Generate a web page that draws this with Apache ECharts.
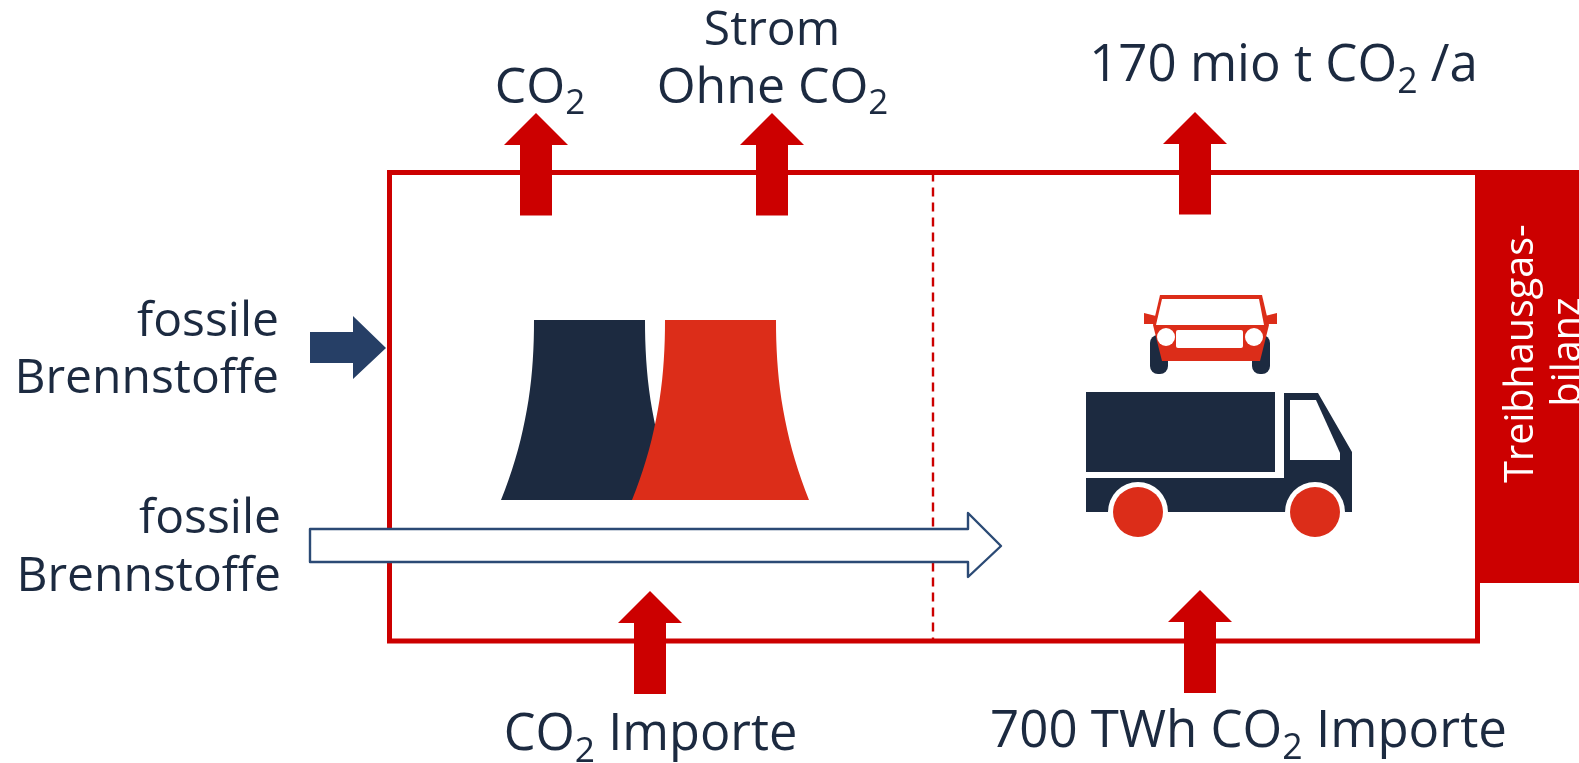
<!DOCTYPE html>
<html>
<head>
<meta charset="utf-8">
<style>html,body{margin:0;padding:0;background:#fff}#chart{width:1579px;height:763px}</style>
<script src="https://cdn.jsdelivr.net/npm/echarts@6/dist/echarts.min.js"></script>
</head>
<body>
<div id="chart"></div>
<script>
// Balance-boundary diagram: power plant and road traffic inside a CO2 frame.
const RED = '#CC0000', FLAME = '#DC2D19', NAVY = '#1C2A40', BLUE = '#263F66', INK = '#1C2A40';

// Frame and divider, in diagram units
const frameLeft = 389.5, frameRight = 1477.5, frameTop = 172.5, frameBottom = 641;
const dividerX = 933;
const balanceBox = [1475, 170, 1579, 583];

// Vertical arrows crossing the frame
const arrowCenters = [536, 772, 1195, 650, 1200];
const arrowTips = [113, 113, 112, 591, 590];
const arrowTails = [215.5, 215.5, 214.5, 694, 693];

// Cooling towers: left and right top corners, and the flare of their sides
const towerTopLefts = [534, 665];
const towerTopRights = [645, 776];
const towerRows = [320, 330, 340, 350, 360, 370, 380, 390, 400, 410, 420, 430, 440, 450, 460, 470, 480, 490, 500];
const towerFlare = [0, 0.05, 0.26, 0.65, 1.2, 1.95, 2.9, 4.1, 5.5, 7.2, 9.1, 11.2, 13.5, 16.1, 19, 22.1, 25.5, 29.1, 33];

// Truck outline
const truckBox = [1086, 392, 1275, 472];
const truckBody = [[1086, 478], [1284, 478], [1284, 393], [1318, 393], [1352, 452], [1352, 512], [1086, 512]];
const truckWindow = [[1290, 400], [1316, 400], [1340, 453], [1340, 460], [1290, 460]];
const truckWheels = [1138, 1315];

// Car seen from the front
const carBody = [[1160, 295], [1262, 295], [1269, 325], [1260, 361], [1162, 361], [1153, 325]];
const carScreen = [[1162, 299], [1259, 299], [1264, 325], [1156, 325]];
const carMirrors = [
  [[1144, 313], [1156, 316], [1154, 324], [1144, 324]],
  [[1277, 313], [1265, 316], [1267, 324], [1277, 324]]
];
const carLamps = [1166, 1254];
const carGrille = [1176, 330, 1243, 348];
const carTyres = [[1150, 335, 1168, 374], [1252, 335, 1270, 374]];

// Horizontal fuel arrows
const fuelSolid = [[310, 332], [353, 332], [353, 316], [386, 348], [353, 379], [353, 363], [310, 363]];
const fuelOutline = [[310, 529], [968, 529], [968, 513], [1001, 546], [968, 577], [968, 562], [310, 562]];

// Text labels
const labelTexts = ['Strom', '{m|Ohne CO}{s|2}', '{m|CO}{s|2}', '{m|170 mio t CO}{s|2}{m| /a}',
  'fossile', 'Brennstoffe', 'fossile', 'Brennstoffe', '{m|CO}{s|2}{m| Importe}', '{m|700 TWh CO}{s|2}{m| Importe}'];
const labelX = [772, 772.5, 540, 1283.5, 279, 279, 281, 281, 650.5, 1248.5];
const labelY = [45, 103, 103, 81, 336, 393, 533, 591, 750, 747];
const labelSize = [48, 50, 50, 51, 48, 48, 48, 48, 50.5, 51];
const labelAlign = ['center', 'center', 'center', 'center', 'right', 'right', 'right', 'right', 'center', 'center'];
const balanceLines = ['Treibhausgas-', 'bilanz'];
const balanceLineX = [1532.5, 1580];
const balanceLineY = [353.5, 352];

const FONT = '"Open Sans"';
const BALANCE_SIZE = 39.5;
const PLAIN_ASCENT = 0.78;   // top of a plain text box to its baseline, per font size
const RICH_LINE = 72;
const RICH_DESCENT = 0.38;

function polygon(pts, fill, extra) { return Object.assign({ kind: 'poly', pts, fill }, extra); }
function rect(r, fill, radius) { return { kind: 'rect', r, fill, radius: radius || 0 }; }
function circle(c, radius, fill) { return { kind: 'circle', c, radius, fill }; }
function line(a, b, width, dash) { return { kind: 'line', a, b, width, dash }; }

const shapes = [];
// frame
shapes.push(line([frameLeft - 2.5, frameTop], [frameRight + 2.5, frameTop], 5));
shapes.push(line([frameLeft - 2.5, frameBottom], [frameRight + 2.5, frameBottom], 5));
shapes.push(line([frameLeft, frameTop], [frameLeft, frameBottom], 5));
shapes.push(line([frameRight, frameTop], [frameRight, frameBottom], 5));
shapes.push(line([dividerX, frameTop], [dividerX, frameBottom], 2.4, [9, 6]));
shapes.push(rect(balanceBox, RED));
// arrows through the frame
arrowCenters.forEach((cx, i) => {
  const tip = arrowTips[i], tail = arrowTails[i], head = tip + 32;
  shapes.push(polygon([[cx, tip], [cx + 32, head], [cx + 16, head], [cx + 16, tail], [cx - 16, tail], [cx - 16, head], [cx - 32, head]], RED));
});
// cooling towers, dark one behind
towerTopLefts.forEach((xl, i) => {
  const left = towerRows.map((y, k) => [xl - towerFlare[k], y]);
  const right = towerRows.map((y, k) => [towerTopRights[i] + towerFlare[k], y]).reverse();
  shapes.push(polygon(left.concat(right), i ? FLAME : NAVY));
});
// truck
shapes.push(rect(truckBox, NAVY));
shapes.push(polygon(truckBody, NAVY));
shapes.push(polygon(truckWindow, '#fff'));
truckWheels.forEach(x => {
  shapes.push(circle([x, 512], 30, '#fff'));
  shapes.push(circle([x, 512], 25, FLAME));
});
// car
carTyres.forEach(t => shapes.push(rect(t, NAVY, 8)));
carMirrors.forEach(m => shapes.push(polygon(m, FLAME)));
shapes.push(polygon(carBody, FLAME));
shapes.push(polygon(carScreen, '#fff'));
carLamps.forEach(x => shapes.push(circle([x, 337], 9, '#fff')));
shapes.push(rect(carGrille, '#fff', 2));
// fuel arrows
shapes.push(polygon(fuelSolid, BLUE));
shapes.push(polygon(fuelOutline, '#fff', { stroke: '#2B4A75', lineWidth: 2.4 }));

function renderShape(params, api) {
  const s = shapes[params.dataIndex];
  const at = p => api.coord(p);
  if (s.kind === 'poly') {
    return { type: 'polygon', shape: { points: s.pts.map(at) },
      style: { fill: s.fill, stroke: s.stroke || null, lineWidth: s.lineWidth || 0, lineJoin: 'round' } };
  }
  if (s.kind === 'rect') {
    const a = at([s.r[0], s.r[1]]), b = at([s.r[2], s.r[3]]);
    return { type: 'rect', shape: { x: a[0], y: a[1], width: b[0] - a[0], height: b[1] - a[1], r: s.radius },
      style: { fill: s.fill } };
  }
  if (s.kind === 'circle') {
    const c = at(s.c);
    return { type: 'circle', shape: { cx: c[0], cy: c[1], r: api.size([s.radius, 0])[0] }, style: { fill: s.fill } };
  }
  const a = at(s.a), b = at(s.b);
  return { type: 'line', shape: { x1: a[0], y1: a[1], x2: b[0], y2: b[1] },
    style: { stroke: RED, lineWidth: s.width, lineDash: s.dash || null } };
}

// Main text and its lowered subscript share one line box
function richFor(size) {
  return {
    m: { fontFamily: FONT, fontSize: size, fill: INK, padding: [0, 0, 8, 0], verticalAlign: 'bottom', lineHeight: RICH_LINE },
    s: { fontFamily: FONT, fontSize: size * 0.7, fill: INK, verticalAlign: 'bottom', lineHeight: RICH_LINE }
  };
}

function renderLabel(params, api) {
  const i = params.dataIndex, size = labelSize[i];
  const isRich = labelTexts[i].indexOf('{') === 0;
  const drop = isRich ? RICH_LINE - RICH_DESCENT * size : PLAIN_ASCENT * size;
  const p = api.coord([labelX[i], labelY[i] - drop]);
  return { type: 'text', x: p[0], y: p[1],
    style: Object.assign({ text: labelTexts[i], fontFamily: FONT, fontSize: size, fill: INK, align: labelAlign[i],
      verticalAlign: 'top' }, isRich ? { rich: richFor(size) } : {}) };
}

function renderBalance(params, api) {
  const i = params.dataIndex;
  const p = api.coord([balanceLineX[i] - PLAIN_ASCENT * BALANCE_SIZE, balanceLineY[i]]);
  return { type: 'text', x: p[0], y: p[1], rotation: Math.PI / 2,
    style: { text: balanceLines[i], fontFamily: FONT, fontSize: BALANCE_SIZE, fill: '#fff', align: 'center', verticalAlign: 'top' } };
}

const chart = echarts.init(document.getElementById('chart'), null, { renderer: 'canvas' });
chart.setOption({
  animation: false,
  backgroundColor: '#fff',
  grid: { left: 0, right: 0, top: 0, bottom: 0 },
  xAxis: { type: 'value', min: 0, max: 1579, show: false },
  yAxis: { type: 'value', min: 0, max: 763, inverse: true, show: false },
  series: [
    { type: 'custom', name: 'shapes', clip: false, silent: true, renderItem: renderShape, data: shapes.map((s, i) => [i]), encode: { x: 0 }, z: 2 },
    { type: 'custom', name: 'labels', clip: false, silent: true, renderItem: renderLabel, data: labelTexts.map((s, i) => [labelX[i], labelY[i]]), z: 3 },
    { type: 'custom', name: 'balance', clip: false, silent: true, renderItem: renderBalance, data: balanceLines.map((s, i) => [balanceLineX[i], balanceLineY[i]]), z: 3 }
  ]
});
</script>
</body>
</html>
